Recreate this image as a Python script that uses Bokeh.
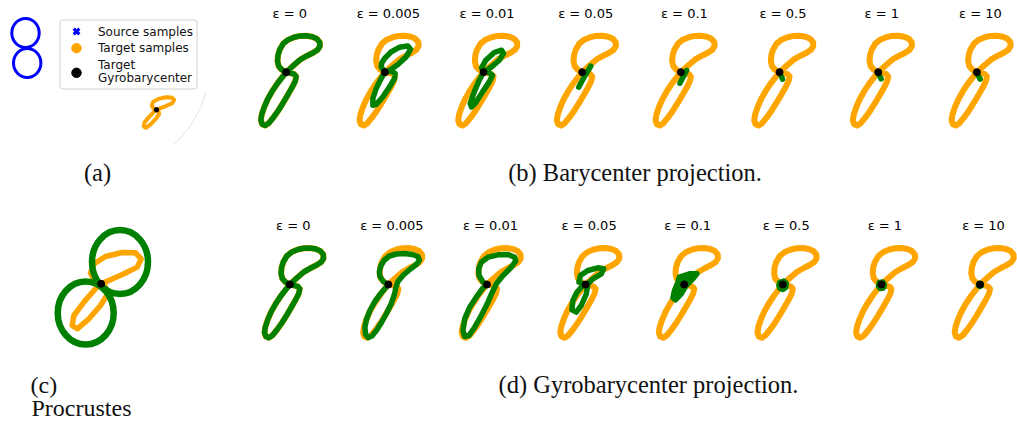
import numpy as np
from bokeh.plotting import figure
from bokeh.models import Range1d
from bokeh.core.properties import value
from bokeh.embed import file_html
from bokeh.resources import INLINE

# ---------------- data ----------------
EPSILONS = ["0", "0.005", "0.01", "0.05", "0.1", "0.5", "1", "10"]

# target figure-eight (orange), offsets from its gyrobarycenter (small panels)
TARGET_DX = [0, -4.5, -7.5, -8.7, -8.2, -6.5, -3, 2, 8, 14, 20, 26, 30.5, 33.5, 33.7, 31.5, 27, 21, 14, 7, 0,
             -4, -9, -14, -18.5, -22, -24.5, -25.3, -24, -21, -17.5, -13, -8, -3, 2, 6, 9, 10, 8, 4, 0]
TARGET_DY = [0, -2.5, -6, -11, -17, -22.5, -28.5, -32.5, -35, -36.3, -36.5, -35.5, -33.5, -30, -26, -22.5, -19.5, -16.5, -12.5, -6.5, 0,
             5, 11.5, 19, 27, 35, 42.5, 48, 52, 53.3, 51, 45.5, 38.5, 30.5, 22, 15, 9, 4.3, 2, 0.8, 0]

# barycenter projection (green), one curve per epsilon
BARY_DX = [
    TARGET_DX,
    [0, -3.7, -3, -0.3, 6.3, 14.7, 23, 25.7, 21.3, 13, 6.3, 0, -3.7, -8.7, -12, -12, -8.7, -2, 4.7, 9.7, 10.3, 6.3, 0],
    [0, -2, 2.3, 10.7, 18, 20, 15.7, 8, 0, -4.3, -9.3, -13.3, -12, -7.7, -1, 5.7, 9, 4, 0],
    [8.5, 3, -3.5, 3, 8.5],
    [5.7, 2.3, -1, 2.3, 5.7],
    [0.5, 1.8, 3, 1.8, 0.5],
    [0.5, 3],
    [0.7, 3.3],
]
BARY_DY = [
    TARGET_DY,
    [0, -5.3, -9.5, -13.7, -20.3, -25, -26.3, -23, -15.3, -7.7, -3, 0, 6.3, 16.3, 26.3, 33, 32.3, 24.7, 14.7, 6.3, 1.3, -1, 0],
    [0, -4.3, -12, -19.7, -22, -18.7, -12, -5.3, 0, 8, 19.7, 31.3, 34.7, 30.3, 19.7, 9.7, 3, -0.3, 0],
    [-6, 3, 15, 3, -6],
    [-1.7, 4.7, 11, 4.7, -1.7],
    [1.5, 4.2, 7, 4.2, 1.5],
    [2, 6.7],
    [2.3, 7],
]

# gyrobarycenter projection (green), one curve per epsilon
GYRO_DX = [
    TARGET_DX,
    [0, -5, -8.5, -9, -7.5, -4, 1, 8, 16, 24, 29.5, 31, 28.5, 22, 15, 9.5, 7.5, 6, 2.5, -2,
     -7, -12, -16.5, -20, -22.8, -23.5, -22, -18.5, -13.5, -8, -3.5, 0],
    [0, -4, -8, -8.3, -5.7, 1, 11, 21, 27.7, 28.7, 24.3, 16, 9.3, 5.3, 1, -5.7, -12.3, -18, -22.3, -24, -22.3, -17.3, -10.7, -4.7, 0],
    [0, -6.7, -5.3, 2.3, 12.3, 18, 15.7, 7.3, 2.3, 0.7, -4.3, -9.3, -13.7, -12.7, -8.7, -4.3, 0],
    [-4.7, 5.3, 12.7, 8.7, 2, -3, -8.7, -11.3, -9.7, -6.3, -4.7],
    [-3, 1, 3.5, 3, 0, -3, -4, -3],
    [-2, 1.5, 3, 2, -1, -3, -2],
    [-1, 1, 1.5, 0, -1.5, -1],
]
GYRO_DY = [
    TARGET_DY,
    [0, -3, -8, -13, -19, -24.5, -28.5, -30.5, -31, -30, -28, -24.5, -20.5, -15.5, -9.5, -3, 3, 10, 20, 29,
     38, 46, 51.5, 53, 50, 43, 35, 26, 17, 9.5, 4, 0],
    [0, -2.3, -9, -15.7, -22.3, -27.3, -29.7, -30, -27.3, -23.3, -17.3, -9, -0.7, 7.7, 17.7, 31, 42.7, 51, 52, 46, 34.3, 22.7, 12.7, 4.3, 0],
    [0, -2.3, -9, -14, -16.7, -15.7, -10.7, -5.7, -0.7, 9.3, 21, 27.7, 25.3, 16, 7.7, 2.7, 0],
    [-7.3, -10.7, -10.7, -5.7, 1, 9.3, 15.3, 13.3, 6, -2.3, -7.3],
    [-2, -3.5, -1, 3, 5, 4, 1, -2],
    [-2, -2.5, 0.5, 3.5, 4, 1.5, -2],
    [-1, -1, 1, 2, 1, -1],
]

# Procrustes panel: target (orange) and aligned source circles (green)
PROC_DX = [0, -7.3, -10.7, -7.3, 4.3, 21, 34.3, 40, 36, 22.7, 9.3, 0, -5.7, -17.3, -27.3, -29, -24, -12.3, -0.7, 6, 4.3, 0]
PROC_DY = [0, -4, -10.7, -20, -27.3, -31.3, -31, -25, -16.7, -10, -4, 0, 5, 18.3, 31.7, 41.7, 45, 35, 21.7, 10.7, 3.3, 0]
PROC_CIRCLE_DX = [18.8, -15.5]
PROC_CIRCLE_DY = [-21.8, 29.2]
PROC_CIRCLE_W = [56, 56]
PROC_CIRCLE_H = [64, 63]

# source figure-eight (blue) in panel (a)
SOURCE_DX = [0, 1.7]
SOURCE_DY = [0, 30]
SOURCE_W = [27.4, 27.4]
SOURCE_H = [29, 29]

LEGEND_LABELS = ["Source samples", "Target samples", "Target", "Gyrobarycenter"]
ROW_TITLES = ["(b) Barycenter projection.", "(d) Gyrobarycenter projection."]

# ---------------- style / layout ----------------
ORANGE = "#ffa500"
GREEN = "#008000"
BLUE = "#0000ff"
SANS = value("DejaVu Sans")
SERIF = value("Liberation Serif")

W, H = 1017, 422
p = figure(width=W, height=H, x_range=Range1d(0, W), y_range=Range1d(H, 0),
           output_backend="svg", toolbar_location=None, tools="",
           x_axis_location=None, y_axis_location=None, min_border=0)
p.grid.visible = False
p.outline_line_color = None
p.background_fill_color = "white"

TOP_X0, TOP_Y, TOP_STEP = 285.7, 71.7, 98.67
BOT_X0, BOT_Y, BOT_STEP = 289.3, 284.0, 98.6


def place(dx, dy, x0, y0, sx=1.0, sy=1.0):
    return list(x0 + sx * np.asarray(dx, float)), list(y0 + sy * np.asarray(dy, float))


# ---- panel (a) ----
A_X, A_Y = 25.0, 32.5
p.ellipse(x=[A_X + d for d in SOURCE_DX], y=[A_Y + d for d in SOURCE_DY],
          width=SOURCE_W, height=SOURCE_H, fill_color=None, line_color=BLUE, line_width=3)
# faint disk boundary
th = np.radians(np.linspace(16, 47, 40))
p.line(95 + 115 * np.cos(th), 60 + 115 * np.sin(th), line_color="#e3e3e3", line_width=1)
ax_, ay_ = place(PROC_DX, PROC_DY, 156.0, 109.3, 0.44, 0.40)
p.line(ax_, ay_, line_color=ORANGE, line_width=4, line_join="round")
p.scatter([156.0], [109.3], size=4.5, color="black")

# legend
try:
    p.quad(left=[59.5], right=[196.5], top=[19.5], bottom=[88.5], fill_color="white",
           line_color="#d0d0d0", line_width=1, border_radius=3)
except Exception:
    p.quad(left=[59.5], right=[196.5], top=[19.5], bottom=[88.5], fill_color="white",
           line_color="#d0d0d0", line_width=1)
p.scatter([76], [31], marker="x", size=8, line_color=BLUE, line_width=3.2)
p.scatter([76], [47.7], marker="circle", size=9.5, color=ORANGE)
p.scatter([76], [72.3], marker="circle", size=9.5, color="black")
p.text(x=[97.5] * 4, y=[31, 47.7, 64.3, 77.7], text=LEGEND_LABELS, text_font=SANS,
       text_font_size=value("12px"), text_baseline="middle", text_align="left", text_color="#111111")

# ---- panel (c) ----
C_X, C_Y = 100.7, 283.3
cx_, cy_ = place(PROC_DX, PROC_DY, C_X, C_Y)
p.line(cx_, cy_, line_color=ORANGE, line_width=5.5, line_join="round")
p.ellipse(x=[C_X + d for d in PROC_CIRCLE_DX], y=[C_Y + d for d in PROC_CIRCLE_DY],
          width=PROC_CIRCLE_W, height=PROC_CIRCLE_H, fill_color=None, line_color=GREEN, line_width=6.5)
p.scatter([C_X], [C_Y], size=7, color="black")

# ---- panels (b) and (d) ----
orange_xs, orange_ys, green_xs, green_ys = [], [], [], []
fill_xs, fill_ys = [], []
dot_x, dot_y = [], []
title_x, title_y = [], []
for row, (x0, y0, step, GX, GY) in enumerate([(TOP_X0, TOP_Y, TOP_STEP, BARY_DX, BARY_DY),
                                              (BOT_X0, BOT_Y, BOT_STEP, GYRO_DX, GYRO_DY)]):
    for i in range(len(EPSILONS)):
        cx = x0 + i * step
        ox, oy = place(TARGET_DX, TARGET_DY, cx, y0)
        orange_xs.append(ox); orange_ys.append(oy)
        gx, gy = place(GX[i], GY[i], cx, y0)
        green_xs.append(gx); green_ys.append(gy)
        if row == 1 and i >= 4:
            fill_xs.append(gx); fill_ys.append(gy)
        dot_x.append(cx); dot_y.append(y0)
        title_x.append(cx + 3.5); title_y.append(13.0 if row == 0 else 225.0)

p.multi_line(orange_xs, orange_ys, line_color=ORANGE, line_width=6, line_join="round", line_cap="round")
p.patches(fill_xs, fill_ys, fill_color=GREEN, line_color=GREEN, line_width=3, line_join="round")
p.multi_line(green_xs, green_ys, line_color=GREEN, line_width=5.5, line_join="round", line_cap="round")
p.scatter(dot_x, dot_y, size=7, color="black")

p.text(x=title_x, y=title_y, text=[f"ε = {e}" for e in EPSILONS] * 2, text_font=SANS,
       text_font_size=value("13px"), text_align="center", text_baseline="middle", text_color="#000000")

# ---- captions ----
p.text(x=[97, 634.5, 648], y=[172, 172, 383.5], text=["(a)", ROW_TITLES[0], ROW_TITLES[1]],
       text_font=SERIF, text_font_size=value("24.5px"), text_align="center",
       text_baseline="middle", text_color="#111111")
p.text(x=[30, 31], y=[384, 407], text=["(c)", "Procrustes"], text_font=SERIF,
       text_font_size=value("24px"), text_align="left", text_baseline="middle", text_color="#111111")

open("out.html", "w").write(file_html(p, INLINE))
